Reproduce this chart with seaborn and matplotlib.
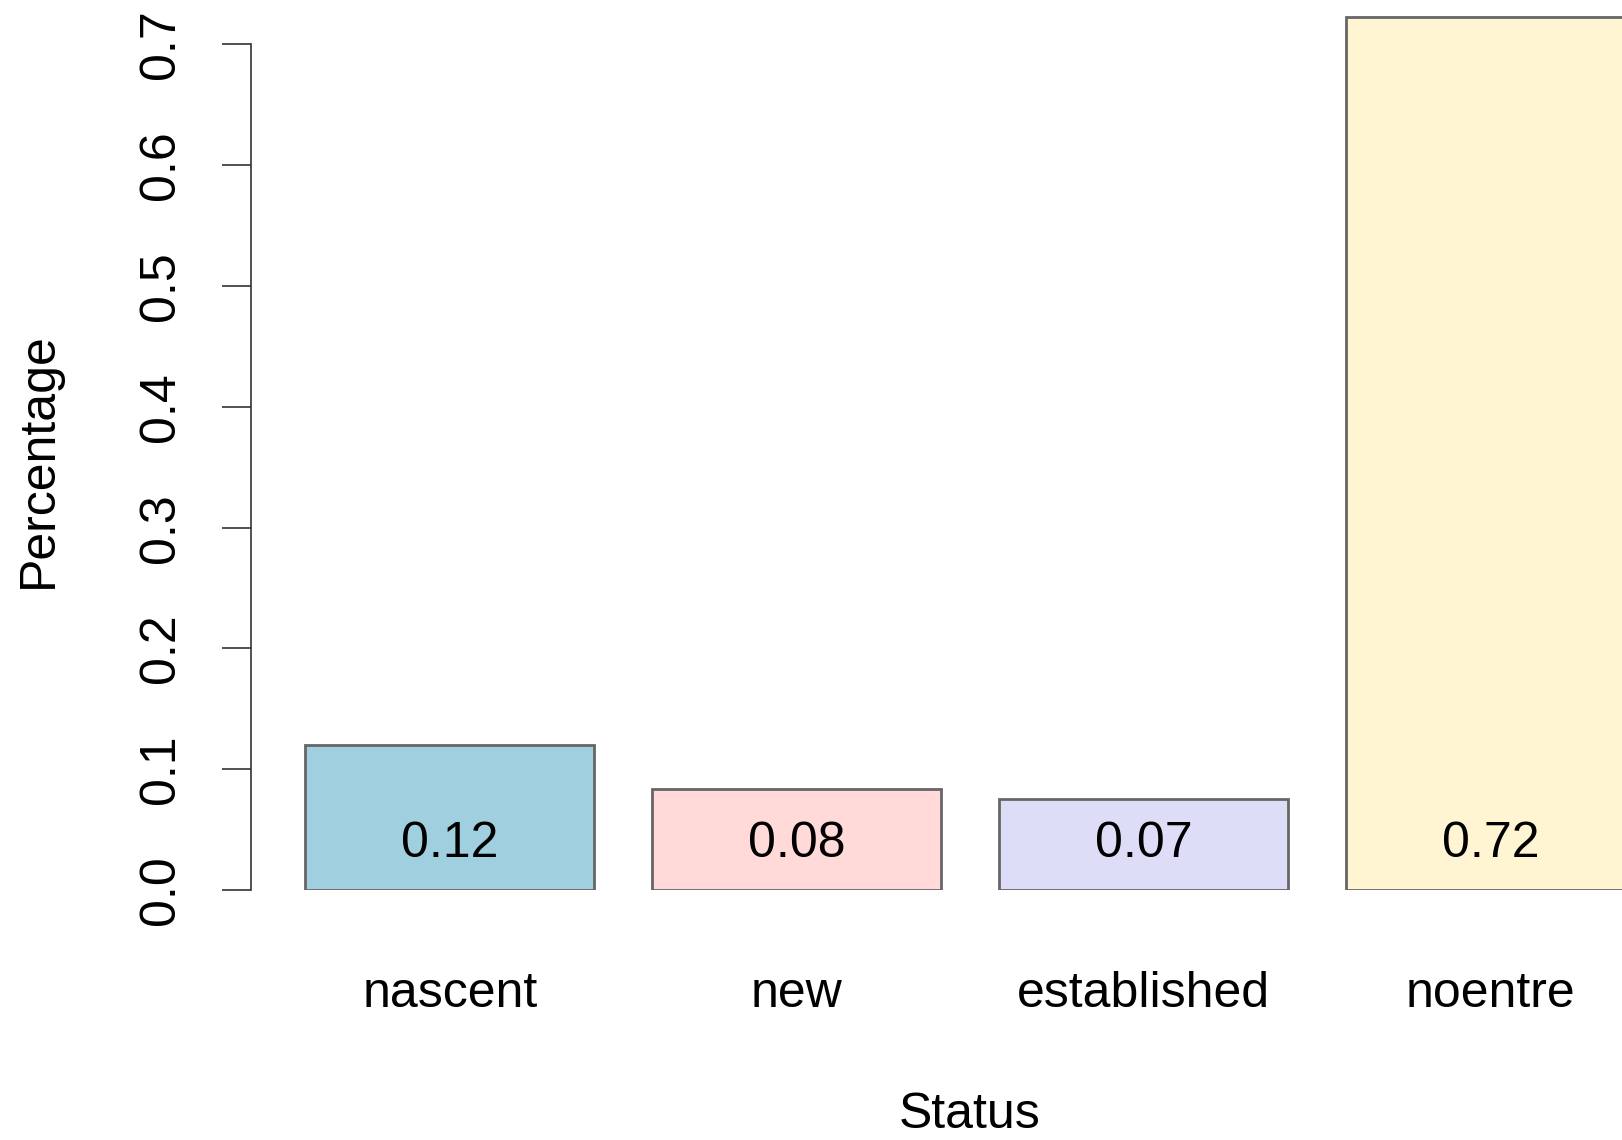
import pandas as pd
import matplotlib
matplotlib.use('Agg')
import matplotlib.pyplot as plt
import seaborn as sns

# data
status = ['nascent', 'new', 'established', 'noentre']
share = [0.12, 0.084, 0.075, 0.723]
share_labels = ['0.12', '0.08', '0.07', '0.72']
bar_colors = ['#A0CFE0', '#FFDAD9', '#DDDDF8', '#FFF5D3']
y_ticks = [0.0, 0.1, 0.2, 0.3, 0.4, 0.5, 0.6, 0.7]

sns.set_style('white')
plt.rcParams['font.family'] = ['Liberation Sans', 'DejaVu Sans']
plt.rcParams['text.color'] = 'black'
plt.rcParams['axes.labelcolor'] = 'black'
plt.rcParams['xtick.color'] = 'black'
plt.rcParams['ytick.color'] = 'black'

df = pd.DataFrame({'Status': status, 'Percentage': share})

fig = plt.figure(figsize=(16.22, 11.40), dpi=100)
ax = fig.add_axes([251 / 1622, 250 / 1140, 1 - 251 / 1622, 889 / 1140])

sns.barplot(data=df, x='Status', y='Percentage', hue='Status', palette=bar_colors,
            width=0.833, edgecolor='#666666', linewidth=2.0, legend=False,
            saturation=1, ax=ax)

for i, lab in enumerate(share_labels):
    ax.text(i, 0.038, lab, ha='center', va='center', fontsize=36, color='black')

ax.set_xlim(-0.573, 3.378)
ax.set_ylim(0, 0.736)

for s in ['top', 'right', 'bottom']:
    ax.spines[s].set_visible(False)
ax.spines['left'].set_bounds(0, 0.7)
ax.spines['left'].set_color('#333333')
ax.spines['left'].set_linewidth(1.2)

ax.set_yticks(y_ticks)
ax.set_yticklabels([f'{t:.1f}' for t in y_ticks], rotation=90, va='center', fontsize=36)
ax.tick_params(axis='y', length=21, width=1.2, color='#333333', pad=27, left=True)
ax.tick_params(axis='x', length=0, pad=58, labelsize=36)

ax.set_xlabel('Status', fontsize=36)
ax.xaxis.set_label_coords(0.524, -0.253)
ax.xaxis.label.set_va('center')
ax.set_ylabel('Percentage', fontsize=36)
ax.yaxis.set_label_coords(-0.1546, 0.484)
ax.yaxis.label.set_va('center')

fig.savefig('out.png', dpi=100)
